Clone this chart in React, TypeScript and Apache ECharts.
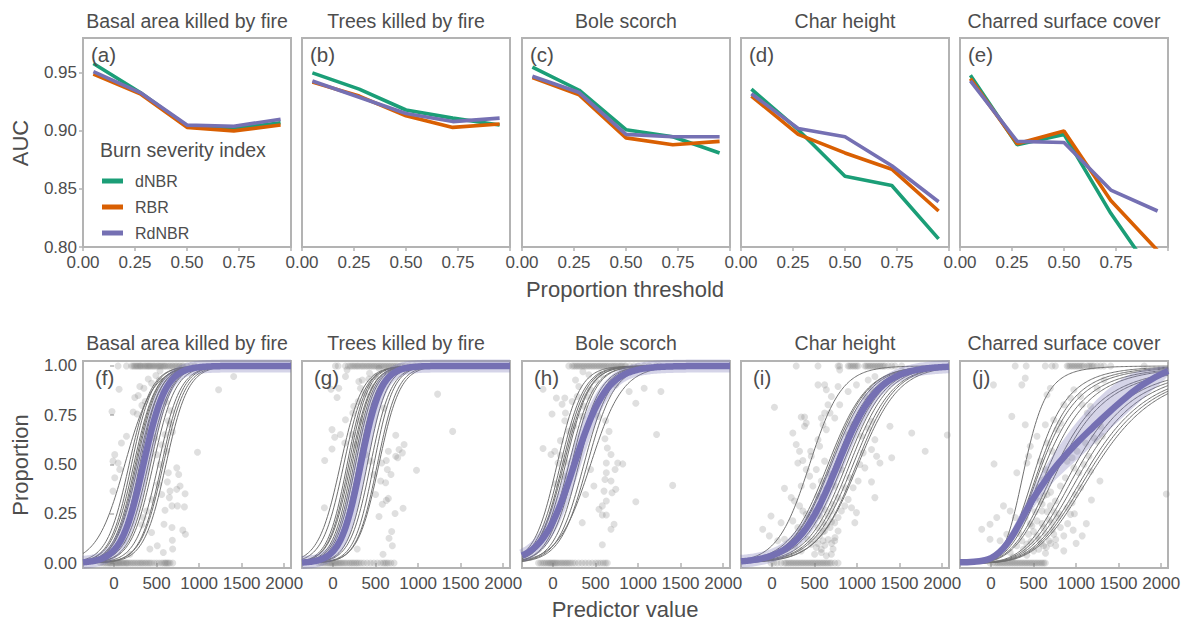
import React, { useEffect, useRef } from "react";
import * as echarts from "echarts";

// ---------- data ----------
const panelTitles = ["Basal area killed by fire", "Trees killed by fire", "Bole scorch", "Char height", "Charred surface cover"];
const topLetters = ["(a)", "(b)", "(c)", "(d)", "(e)"];
const bottomLetters = ["(f)", "(g)", "(h)", "(i)", "(j)"];
const indexNames = ["dNBR", "RBR", "RdNBR"];
const thresholds = [0.05, 0.275, 0.5, 0.725, 0.95];

const aucDNBR = [
  [0.958, 0.933, 0.904, 0.902, 0.907],
  [0.950, 0.936, 0.918, 0.911, 0.905],
  [0.955, 0.935, 0.901, 0.895, 0.881],
  [0.936, 0.901, 0.861, 0.853, 0.807],
  [0.948, 0.888, 0.897, 0.829, 0.771],
];
const aucRBR = [
  [0.949, 0.932, 0.903, 0.900, 0.905],
  [0.942, 0.930, 0.913, 0.903, 0.906],
  [0.946, 0.931, 0.894, 0.888, 0.891],
  [0.930, 0.897, 0.881, 0.867, 0.831],
  [0.945, 0.889, 0.900, 0.840, 0.797],
];
const aucRdNBR = [
  [0.951, 0.933, 0.905, 0.904, 0.910],
  [0.943, 0.929, 0.915, 0.908, 0.911],
  [0.947, 0.933, 0.897, 0.895, 0.895],
  [0.932, 0.902, 0.895, 0.870, 0.839],
  [0.943, 0.891, 0.890, 0.849, 0.831],
];

const aucTicks = [0.8, 0.85, 0.9, 0.95];
const thrTicks = [0, 0.25, 0.5, 0.75, 1];
const thrLabels = [0, 0.25, 0.5, 0.75];
const predTicks = [0, 500, 1000, 1500, 2000];
const propTicks = [0, 0.25, 0.5, 0.75, 1];

// scatter: intermediate points as flat [x, p, x, p, ...]
const midF = [1406,0.946, 1229,0.879, 59,0.882, -24,0.769, 244,0.84, 284,0.85, 303,0.896, 351,0.887, 402,0.934, 441,0.912, 492,0.951, 540,0.975, 532,0.929, 366,0.82, 327,0.8, 225,0.766, 272,0.756, 579,0.867, 610,0.817, 638,0.722, 666,0.773, 658,0.705, 686,0.665, 599,0.652, 146,0.643, 87,0.609, 8,0.55, -12,0.517, 47,0.508, 67,0.475, 8,0.433, -12,0.365, 981,0.562, 737,0.483, 760,0.449, 638,0.458, 626,0.412, 776,0.391, 835,0.352, 737,0.374, 658,0.365, 650,0.332, 681,0.29, 745,0.29, 827,0.285, 599,0.268, 587,0.197, 681,0.18, 808,0.167, 839,0.146, 441,0.155, 421,0.071, 508,0.088, 579,0.054, 689,0.071, 685,0.116, 343,0.231, 327,0.194, 382,0.264, 445,0.322, 500,0.55, 540,0.5, 480,0.635, 560,0.6, 421,0.668, 618,0.567, 520,0.4, 560,0.348, 185,0.045, 106,0.113];
const midG = [1229,0.857, 1406,0.668, 981,0.471, 47,0.84, -24,0.882, 146,0.946, 165,0.98, 303,0.921, 343,0.929, 421,0.934, 441,0.896, 429,0.963, 540,0.988, 500,0.946, 374,0.862, 296,0.82, 244,0.795, 232,0.761, 146,0.727, 323,0.722, 480,0.803, 599,0.786, 737,0.648, 835,0.601, 776,0.576, 815,0.559, 737,0.542, 650,0.567, 626,0.52, 760,0.534, 571,0.508, 638,0.475, 681,0.449, 618,0.407, 559,0.416, 650,0.328, 626,0.318, 823,0.278, 729,0.251, 540,0.236, 689,0.16, 658,0.126, 697,0.088, 587,0.045, 284,0.071, -12,0.677, 20,0.638, 87,0.652, 138,0.609, -12,0.579, -98,0.52, -102,0.281, 225,0.652, 264,0.601, 382,0.55, 441,0.517, 480,0.449, 500,0.348, 579,0.298, 67,0.887, 323,0.887];
const midH = [1406,0.394, 1217,0.652, 973,0.311, -118,0.882, 39,0.837, 138,0.837, 106,0.806, -12,0.756, 146,0.761, 138,0.722, 225,0.82, 264,0.929, 303,0.896, 284,0.845, 351,0.971, 421,0.955, 441,0.879, 402,0.845, 500,0.929, 559,0.955, 681,0.921, 737,0.904, 815,0.98, 894,0.87, 973,0.811, 1071,0.887, 1268,0.87, 362,0.795, 343,0.744, 244,0.694, 87,0.621, 185,0.668, -118,0.581, -24,0.551, 20,0.567, 59,0.508, 87,0.547, 146,0.513, 126,0.441, 28,0.402, 532,0.744, 618,0.722, 658,0.668, 610,0.631, 638,0.584, 681,0.551, 760,0.508, 819,0.503, 626,0.508, 729,0.475, 626,0.458, 610,0.424, 681,0.416, 737,0.374, 599,0.365, 693,0.357, 626,0.315, 579,0.29, 540,0.273, 579,0.244, 626,0.244, 717,0.197, 681,0.172, 579,0.093, 441,0.475, 480,0.391, 382,0.348, 343,0.205];
const midI = [28,0.79, 343,0.741, 382,0.741, 402,0.71, 382,0.694, 244,0.66, 284,0.601, 323,0.567, 454,0.567, 461,0.542, 362,0.52, 303,0.508, 402,0.475, 441,0.441, 480,0.391, 343,0.391, 146,0.379, 225,0.332, 264,0.315, 323,0.29, 362,0.264, 402,0.247, 441,0.231, 480,0.214, 106,0.205, -12,0.239, -110,0.172, -32,0.138, 67,0.113, 146,0.121, 264,0.088, 343,0.062, 421,0.121, 461,0.096, 520,0.079, 579,0.054, 638,0.037, 697,0.045, 559,0.138, 618,0.163, 681,0.18, 737,0.205, 776,0.231, 815,0.264, 599,0.205, 658,0.239, 697,0.264, 717,0.298, 776,0.332, 855,0.29, 894,0.323, 934,0.281, 973,0.205, 992,0.256, 953,0.382, 1012,0.416, 1032,0.5, 1071,0.559, 1091,0.483, 1169,0.412, 1209,0.332, 1268,0.508, 1229,0.542, 1169,0.576, 1386,0.694, 1406,0.534, 1642,0.66, 1800,0.567, 1209,0.626, 1169,0.719, 1130,0.685, 1052,0.643, 934,0.702, 894,0.652, 795,0.803, 894,0.87, 992,0.904, 1130,0.929, 1209,0.946, 1169,0.879, 1091,0.845, 776,0.896, 795,0.98, 697,0.845, 658,0.803, 618,0.761, 579,0.736, 540,0.904, 618,0.904, 638,0.879, 681,0.761, 737,0.736, 599,0.702, 638,0.677, 540,0.626, 559,0.593, 618,0.517, 520,0.475, 579,0.416, 638,0.374, 540,0.34, 681,0.449, 737,0.391, 855,0.382, 913,0.433, 815,0.475, 559,0.29, 500,0.264, 540,0.18, 599,0.113, 737,0.113, 776,0.163, 717,0.071, 500,0.045, 362,0.155, 303,0.18, 244,0.214, 185,0.079, 500,0.12, 540,0.1, 580,0.07, 620,0.09, 660,0.12, 700,0.1, 740,0.13, 600,0.16, 640,0.19, 700,0.21, 560,0.24, 620,0.27, 2060,0.65];
const midJ = [35,0.503, 28,0.904, 244,0.744, 402,0.702, 362,0.904, 402,0.938, 658,0.854, 697,0.887, 638,0.702, 737,0.727, 815,0.71, 776,0.677, 855,0.803, 934,0.837, 973,0.879, 1052,0.845, 1071,0.803, 1130,0.761, 1169,0.795, 1248,0.887, 1327,0.929, 1288,0.694, 1209,0.635, 1248,0.618, 1110,0.609, 1012,0.567, 953,0.534, 894,0.517, 973,0.483, 1032,0.458, 1091,0.5, 1150,0.542, 1169,0.466, 1280,0.416, 1052,0.382, 992,0.348, 953,0.306, 894,0.281, 934,0.247, 965,0.167, 1071,0.138, 855,0.138, 776,0.231, 815,0.18, 737,0.146, 681,0.113, 618,0.088, 760,0.088, 855,0.062, 500,0.062, 421,0.096, 362,0.113, 303,0.088, 225,0.054, -110,0.172, -12,0.197, 67,0.231, 146,0.29, 225,0.264, 284,0.231, 303,0.458, 421,0.508, 441,0.542, 579,0.517, 638,0.475, 618,0.424, 559,0.382, 520,0.332, 579,0.315, 658,0.348, 697,0.29, 599,0.264, 540,0.214, 480,0.189, 441,0.146, 540,0.138, 618,0.18, 717,0.205, 756,0.315, 815,0.391, 874,0.433, 185,0.146, 106,0.113, -12,0.121, 658,0.609, 717,0.567, 540,0.643, 461,0.593, 1307,0.643, 460,0.2, 500,0.16, 560,0.12, 600,0.2, 640,0.15, 680,0.22, 720,0.17, 520,0.26, 600,0.3, 660,0.26, 700,0.1, 560,0.07, 640,0.05, 420,0.04, 470,0.11, 380,0.07, 590,0.1, 650,0.08, 760,0.12, 800,0.25, 700,0.36, 620,0.34, 740,0.26, 900,0.2, 980,0.25, 1000,0.1, 1120,0.2, 1180,0.32, 260,0.03, 330,0.15, 400,0.23, 2060,0.35];

// scatter: x of points at proportion 1 and 0
const topF = [47,146,205,225,240,256,270,284,300,311,325,343,360,374,390,402,415,429,445,461,475,492,510,524,540,555,570,587,600,618,640,658,680,697,720,736,760,776,800,815,855,900,950];
const botF = [-160,-130,-110,-90,-71,-55,-43,-30,-12,5,20,35,47,60,75,90,106,120,138,150,165,185,205,225,244,265,284,305,323,340,362,380,402,420,441,470,500,530,559,580,599,610,626,640,658,690];
const topG = [28,60,146,180,205,225,244,264,284,300,323,343,360,382,402,421,441,461,480,500,520,540,560,580,600,620,640,660,680,700,720,740,760,790,815,850,900,960,1030];
const botG = [-170,-140,-115,-95,-75,-55,-40,-25,-10,5,20,35,50,67,85,100,120,140,160,185,205,225,244,265,284,305,330,360,400,440,480,520,560,590,610,630,650,680,717];
const topH = [185,225,244,264,284,303,323,343,362,382,402,421,441,461,480,500,520,540,559,579,599,618,638,658,681,700,720,737,760,780,800,815,840,855,900,950,1000,1071,1130,1209,1248];
const botH = [-170,-145,-120,-100,-80,-60,-45,-30,-15,0,15,30,47,65,87,106,126,146,165,185,205,230,260,300,340,380,420,460,500,530,560,590,615,638];
const topI = [284,540,776,795,894,913,933,953,973,992,1012,1091,1110,1130,1150,1169,1189,1209,1229,1248,1268,1288,1307,1327,1366,1406,1445,1524];
const botI = [-12,20,60,106,146,165,185,205,225,244,264,284,303,323,343,362,382,402,421,441,461,480,500,520,540,559,579,599,618,638,658,680,700,737,776];
const topJ = [284,413,638,717,756,894,913,933,953,973,992,1012,1032,1052,1071,1091,1130,1150,1169,1189,1209,1248,1288,1327,1406,1800];
const botJ = [-12,20,47,67,87,106,126,146,165,185,205,225,244,264,284,303,323,343,362,382,402,421,441,461,480,500,520,540,560,580,599,618,638];

// fitted logistic curves, [x at p=0.5, scale]
const grayF = [[126,165],[177,130],[205,125],[232,130],[250,125],[264,125],[283,130],[303,120],[330,130],[402,130],[429,125],[461,130],[520,130],[559,125],[579,130],[610,130]];
const grayG = [[87,130],[126,125],[165,115],[185,115],[205,120],[224,115],[244,115],[264,115],[290,115],[402,115],[441,120],[480,115],[520,120],[539,125]];
const grayH = [[47,135],[87,140],[110,140],[126,145],[146,140],[185,145],[217,140],[260,150],[303,145],[362,155],[402,160],[441,190]];
const grayI = [[441,190],[657,230],[680,225],[697,230],[736,230],[756,235],[776,240],[800,240],[830,235],[874,230],[913,230],[953,235],[992,230],[1012,240]];
// panel (j) curves are logistic in log(predictor + 450): [x at p=0.5, scale on the log scale]
const grayJ = [[402,0.15],[540,0.19],[579,0.2],[600,0.21],[638,0.22],[690,0.22],[776,0.23],[815,0.23],[992,0.22],[1052,0.22],[1110,0.22],[1169,0.22],[1209,0.22],[1248,0.22]];
const fitF = [345, 130];
const fitG = [325, 118];
const fitH = [250, 190];
const fitI = [770, 240];
// panel (j) overall fit and its band, read point by point
const jFitX = [-365, -200, -100, 0, 100, 200, 300, 400, 500, 600, 700, 800, 1000, 1200, 1400, 1600, 1800, 2080];
const jFitP = [0.004, 0.007, 0.012, 0.025, 0.055, 0.105, 0.175, 0.255, 0.33, 0.395, 0.455, 0.51, 0.605, 0.69, 0.77, 0.845, 0.91, 0.975];
const jBandHi = [0.006, 0.01, 0.017, 0.035, 0.075, 0.135, 0.215, 0.3, 0.385, 0.46, 0.53, 0.595, 0.71, 0.81, 0.89, 0.95, 0.98, 0.995];
const jBandLo = [0.002, 0.004, 0.008, 0.017, 0.04, 0.08, 0.14, 0.21, 0.28, 0.34, 0.395, 0.44, 0.52, 0.6, 0.68, 0.76, 0.84, 0.95];

// ---------- styling / layout ----------
const FONT = '"Liberation Sans", Arial, Helvetica, sans-serif';
const TXT = "#4d4d4d";
const BORDER = "#b3b3b3";
const COLORS = ["#1b9e77", "#d95f02", "#7570b3"];
const LEFTS = [83, 302, 522, 741, 960];
const PW = 208;
const XMIN = -365;
const XMAX = 2080;
const LOG_SHIFT = 450;

const pairs = (a: number[]) => {
  const out: number[][] = [];
  for (let i = 0; i < a.length; i += 2) out.push([a[i], a[i + 1]]);
  return out;
};

const sampleX: number[] = [];
for (let x = XMIN; x <= XMAX; x += 15) sampleX.push(x);
sampleX.push(XMAX);

const logisticLine = (m: number, s: number) => sampleX.map((x) => [x, 1 / (1 + Math.exp(-(x - m) / s))]);
const logLogisticLine = (m: number, s: number) =>
  sampleX.map((x) => [x, 1 / (1 + Math.exp(-(Math.log(x + LOG_SHIFT) - Math.log(m + LOG_SHIFT)) / s))]);

function buildOption() {
  const grid: any[] = [];
  const xAxis: any[] = [];
  const yAxis: any[] = [];
  const series: any[] = [];
  const graphic: any[] = [];

  const tickStyle = { color: BORDER, width: 1.5 };
  const labelBase = { fontSize: 17, color: TXT, fontFamily: FONT };

  // top row
  const aucSets = [aucDNBR, aucRBR, aucRdNBR];
  for (let p = 0; p < 5; p++) {
    grid.push({ left: LEFTS[p], top: 38, width: PW, height: 209, show: true, borderColor: BORDER, borderWidth: 2, backgroundColor: "transparent", containLabel: false, outerBoundsMode: "none" });
    xAxis.push({
      type: "value", gridIndex: p, min: 0, max: 1,
      axisLine: { show: false },
      axisTick: { show: true, length: 4, lineStyle: tickStyle, customValues: thrTicks },
      axisLabel: { ...labelBase, margin: 7, customValues: thrLabels, formatter: (v: number) => v.toFixed(2) },
      splitLine: { show: false },
    });
    yAxis.push({
      type: "value", gridIndex: p, min: 0.8, max: 0.98,
      axisLine: { show: false },
      axisTick: { show: p === 0, length: 4, lineStyle: tickStyle, customValues: aucTicks },
      axisLabel: { ...labelBase, show: p === 0, margin: 6, customValues: aucTicks, formatter: (v: number) => v.toFixed(2) },
      splitLine: { show: false },
    });
    for (let k = 0; k < 3; k++) {
      series.push({
        type: "line", name: indexNames[k], xAxisIndex: p, yAxisIndex: p,
        data: thresholds.map((t, i) => [t, aucSets[k][p][i]]),
        symbol: "none", showSymbol: false, silent: true, z: 3 + k,
        lineStyle: { color: COLORS[k], width: 3.6 }, itemStyle: { color: COLORS[k] },
      });
    }
  }

  // bottom row
  const mids = [midF, midG, midH, midI, midJ];
  const tops = [topF, topG, topH, topI, topJ];
  const bots = [botF, botG, botH, botI, botJ];
  const grays = [grayF, grayG, grayH, grayI, grayJ];
  const fits = [fitF, fitG, fitH, fitI];
  for (let q = 0; q < 5; q++) {
    const gi = 5 + q;
    grid.push({ left: LEFTS[q], top: 361, width: PW, height: 207, show: true, borderColor: BORDER, borderWidth: 2, backgroundColor: "transparent", containLabel: false, outerBoundsMode: "none" });
    xAxis.push({
      type: "value", gridIndex: gi, min: XMIN, max: XMAX,
      axisLine: { show: false },
      axisTick: { show: true, length: 4, lineStyle: tickStyle, customValues: predTicks },
      axisLabel: { ...labelBase, margin: 7, customValues: predTicks, formatter: (v: number) => String(v) },
      splitLine: { show: false },
    });
    yAxis.push({
      type: "value", gridIndex: gi, min: -0.025, max: 1.025,
      axisLine: { show: false },
      axisTick: { show: q === 0, length: 4, lineStyle: tickStyle, customValues: propTicks },
      axisLabel: { ...labelBase, show: q === 0, margin: 6, customValues: propTicks, formatter: (v: number) => v.toFixed(2) },
      splitLine: { show: false },
    });
    const pts = [...pairs(mids[q]), ...tops[q].map((x) => [x, 1]), ...bots[q].map((x) => [x, 0])];
    series.push({
      type: "scatter", xAxisIndex: gi, yAxisIndex: gi, data: pts, symbolSize: 7, silent: true, z: 2,
      itemStyle: { color: "rgba(120,120,120,0.3)" },
    });
    grays[q].forEach(([m, s]) => {
      series.push({
        type: "line", xAxisIndex: gi, yAxisIndex: gi, data: q === 4 ? logLogisticLine(m, s) : logisticLine(m, s),
        symbol: "none", showSymbol: false, silent: true, z: 3,
        lineStyle: { color: "#707070", width: 1 },
      });
    });
    if (q < 4) {
      const f = fits[q];
      const d = logisticLine(f[0], f[1]);
      series.push({
        type: "line", xAxisIndex: gi, yAxisIndex: gi, data: d, symbol: "none", showSymbol: false, silent: true, z: 4,
        lineStyle: { color: "rgba(117,112,179,0.3)", width: 13 },
      });
      series.push({
        type: "line", xAxisIndex: gi, yAxisIndex: gi, data: d, symbol: "none", showSymbol: false, silent: true, z: 5,
        lineStyle: { color: COLORS[2], width: 6.5 },
      });
    } else {
      series.push({
        type: "custom", xAxisIndex: gi, yAxisIndex: gi, data: [[0, 0]], silent: true, z: 4,
        renderItem: (params: any, api: any) => {
          const up = jFitX.map((x, i) => api.coord([x, jBandHi[i]]));
          const lo = jFitX.map((x, i) => api.coord([x, jBandLo[i]])).reverse();
          return { type: "polygon", shape: { points: up.concat(lo), smooth: 0.3 }, style: { fill: "rgba(117,112,179,0.3)" } };
        },
      });
      series.push({
        type: "line", xAxisIndex: gi, yAxisIndex: gi, data: jFitX.map((x, i) => [x, jFitP[i]]),
        smooth: 0.5, symbol: "none", showSymbol: false, silent: true, z: 5,
        lineStyle: { color: COLORS[2], width: 6.5 },
      });
    }
  }

  // texts
  const txt = (text: string, x: number, y: number, size: number, align = "center", rot = 0) => ({
    type: "text", x, y, rotation: rot, z: 100,
    style: { text, fontSize: size, fontFamily: FONT, fill: TXT, textAlign: align, textVerticalAlign: "middle" },
  });
  for (let p = 0; p < 5; p++) {
    graphic.push(txt(panelTitles[p], LEFTS[p] + PW / 2, 21, 19.5));
    graphic.push(txt(panelTitles[p], LEFTS[p] + PW / 2, 343, 19.5));
    graphic.push(txt(topLetters[p], LEFTS[p] + 8, 54, 20.5, "left"));
    graphic.push(txt(bottomLetters[p], LEFTS[p] + 12, 377, 20.5, "left"));
  }
  graphic.push(txt("AUC", 20, 143, 22, "center", Math.PI / 2));
  graphic.push(txt("Proportion", 20, 465, 22, "center", Math.PI / 2));
  graphic.push(txt("Proportion threshold", 625, 289, 22));
  graphic.push(txt("Predictor value", 625, 609, 22));
  // legend
  graphic.push(txt("Burn severity index", 100, 150, 19.5, "left"));
  const legY = [181, 207, 233];
  for (let k = 0; k < 3; k++) {
    graphic.push({ type: "line", z: 100, shape: { x1: 102, y1: legY[k], x2: 123, y2: legY[k] }, style: { stroke: COLORS[k], lineWidth: 5 } });
    graphic.push(txt(indexNames[k], 135, legY[k], 16, "left"));
  }

  return { animation: false, backgroundColor: "#ffffff", grid, xAxis, yAxis, series, graphic };
}

export default function App() {
  const ref = useRef<HTMLDivElement>(null);
  useEffect(() => {
    if (!ref.current) return;
    const chart = echarts.init(ref.current, null, { renderer: "svg" });
    chart.setOption(buildOption() as any);
    return () => chart.dispose();
  }, []);
  return <div ref={ref} style={{ position: "fixed", left: 0, top: 0, width: 1183, height: 623, background: "#fff" }} />;
}
